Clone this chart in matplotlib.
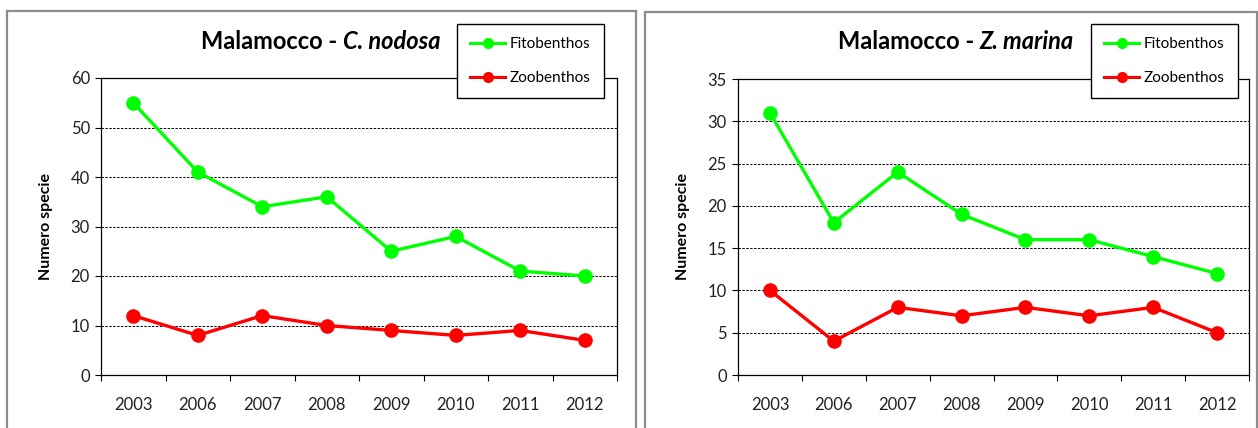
import matplotlib.pyplot as plt
from matplotlib.lines import Line2D
from matplotlib.patches import Rectangle

W, H = 1258, 428
FONT = "Lato"

YEARS = ["2003", "2006", "2007", "2008", "2009", "2010", "2011", "2012"]

NODOSA_FITO = [55, 41, 34, 36, 25, 28, 21, 20]
NODOSA_ZOO = [12, 8, 12, 10, 9, 8, 9, 7]

MARINA_FITO = [31, 18, 24, 19, 16, 16, 14, 12]
MARINA_ZOO = [10, 4, 8, 7, 8, 7, 8, 5]

GREEN = "#00ff00"
RED = "#ff0000"


def fig_box(x0, y_top, x1, y_bottom):
    return [x0 / W, 1 - y_bottom / H, (x1 - x0) / W, (y_bottom - y_top) / H]


def draw_panel(fig, frame, plot, title_xy, species, fito, zoo, ymax, ystep, legend_xy):
    # grey chart border (bottom runs off the picture)
    fx0, fy0, fx1 = frame
    fig.add_artist(Rectangle((fx0 / W, -0.2), (fx1 - fx0) / W, 1.2 - fy0 / H,
                             transform=fig.transFigure, fill=False,
                             edgecolor="#8c8c8c", linewidth=1.6))

    ax = fig.add_axes(fig_box(*plot))
    x = list(range(len(YEARS)))
    ax.plot(x, fito, color=GREEN, linewidth=2.4, marker="o", markersize=9.5,
            label="Fitobenthos", zorder=3, clip_on=False)
    ax.plot(x, zoo, color=RED, linewidth=2.4, marker="o", markersize=9.5,
            label="Zoobenthos", zorder=3, clip_on=False)

    ax.set_xlim(-0.5, len(YEARS) - 0.5)
    ax.set_ylim(0, ymax)
    ax.set_yticks(range(0, ymax + 1, ystep))
    ax.set_xticks(x)
    ax.set_xticklabels(YEARS)
    ax.set_xticks([i - 0.5 for i in range(len(YEARS) + 1)], minor=True)
    ax.tick_params(axis="x", which="major", length=0, pad=16, labelsize=12)
    ax.tick_params(axis="x", which="minor", direction="out", length=4, width=0.8)
    ax.tick_params(axis="y", direction="out", length=4, width=0.8, pad=4, labelsize=12)
    for label in ax.get_xticklabels() + ax.get_yticklabels():
        label.set_fontfamily(FONT)
        label.set_color("#222222")

    for val in range(ystep, ymax, ystep):
        ax.axhline(val, color="black", linewidth=0.7, linestyle=(0, (2.5, 1.5)), zorder=1)
    for spine in ax.spines.values():
        spine.set_linewidth(0.9)
        spine.set_color("black")

    ax.set_ylabel("Numero specie", fontfamily=FONT, fontweight="bold", fontsize=11.5, labelpad=13)

    tx, ty = title_xy
    t1 = fig.text(tx / W, 1 - ty / H, "Malamocco -", fontfamily=FONT, fontweight="bold",
                  fontsize=17, va="baseline", ha="left")
    ax.annotate(species, xy=(1, 0), xycoords=t1, xytext=(4, 0), textcoords="offset points",
                fontfamily=FONT, fontweight="bold", fontstyle="italic", fontsize=17,
                va="bottom", ha="left", annotation_clip=False)

    lx, ly = legend_xy
    handles = [
        Line2D([], [], color=GREEN, linewidth=2.2, marker="o", markersize=7),
        Line2D([], [], color=RED, linewidth=2.2, marker="o", markersize=7),
    ]
    leg = ax.legend(handles, ["Fitobenthos", "Zoobenthos"], loc="upper left",
                    bbox_to_anchor=(lx / W, 1 - ly / H), bbox_transform=fig.transFigure,
                    borderaxespad=0, fancybox=False, framealpha=1, edgecolor="black",
                    handlelength=2.3, handletextpad=0.3, labelspacing=1.3,
                    borderpad=0.85, prop={"family": FONT, "size": 11})
    leg.get_frame().set_linewidth(1.0)
    leg.set_zorder(10)
    return ax


def main():
    fig = plt.figure(figsize=(W / 100, H / 100), dpi=100)
    fig.patch.set_facecolor("white")

    draw_panel(fig, (7, 11, 636), (101, 78, 617, 375), (201, 49), "C. nodosa",
               NODOSA_FITO, NODOSA_ZOO, 60, 10, (457, 24))
    draw_panel(fig, (645, 12, 1257), (738, 79, 1249, 375), (838, 49), "Z. marina",
               MARINA_FITO, MARINA_ZOO, 35, 5, (1091, 24))

    fig.savefig("out.png", dpi=100, facecolor="white")


if __name__ == "__main__":
    main()
